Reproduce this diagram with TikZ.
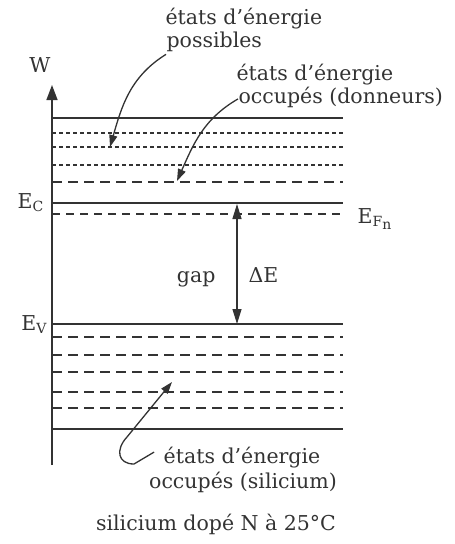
\documentclass[tikz,border=0pt]{standalone}
\usepackage{fontspec}
\setmainfont{DejaVu Serif}
\usetikzlibrary{arrows.meta}
\definecolor{ink}{gray}{0.2}
\newcommand\lsub[1]{\raisebox{-0.35ex}{\fontsize{14}{14}\selectfont #1}}
\begin{document}
\begin{tikzpicture}[x=1pt,y=-1pt, draw=ink, line width=1.2pt,
  lbl/.style={font=\fontsize{20.5}{24}\selectfont, text=ink, inner sep=0pt},
  level/.style={line width=1.3pt},
  fine/.style={line width=1.2pt, dash pattern=on 4pt off 3pt},
  mid/.style={line width=1.2pt, dash pattern=on 10pt off 6pt},
  fermi/.style={line width=2.3pt, dash pattern=on 8pt off 6pt},
  pointer/.style={-{Triangle[length=12pt,width=8pt]}, line width=1.3pt, draw=ink},
]
\useasboundingbox (0,0) rectangle (455,544);
% axis
\coordinate (axbot) at (52,465);
\coordinate (axtop) at (52,85);
\draw[-{Triangle[length=15pt,width=11pt]}, line width=1.4pt] (axbot) -- (axtop);
\node[lbl, anchor=base] (W) at (40,72) {W};
% conduction band levels
\draw[level] (52,118) -- (343,118);
\draw[fine] (52,133) -- (343,133);
\draw[fine] (52,147) -- (343,147);
\draw[fine] (52,165) -- (343,165);
\draw[mid] (52,182) -- (343,182);
\draw[level] (52,203) -- (343,203);
\draw[fermi] (52,214) -- (343,214);
% valence band levels
\draw[level] (52,324) -- (343,324);
\draw[mid] (52,337) -- (343,337);
\draw[mid] (52,355) -- (343,355);
\draw[mid] (52,372) -- (343,372);
\draw[mid] (52,392) -- (343,392);
\draw[mid] (52,408) -- (343,408);
\draw[level] (52,429) -- (343,429);
% labels of levels
\node[lbl, anchor=base east] (EC) at (44,208) {E\lsub{C}};
\node[lbl, anchor=base west] (EF) at (357,223) {E\lsub{F\lsub{n}}};
\node[lbl, anchor=base east] (EV) at (47,330) {E\lsub{V}};
% gap arrow
\coordinate (gtop) at (237,204);
\coordinate (gbot) at (237,324);
\draw[{Triangle[length=15pt,width=9pt]}-{Triangle[length=15pt,width=9pt]}, line width=1.3pt] (gtop) -- (gbot);
\node[lbl, anchor=base east] (gap) at (216,282) {gap};
\node[lbl, anchor=base west] (dE) at (248,282) {ΔE};
% annotations
\node[lbl, anchor=base west] (p1) at (165,24) {états d'énergie};
\node[lbl, anchor=base west] (p2) at (166,47) {possibles};
\node[lbl, anchor=base west] (d1) at (236,80) {états d'énergie};
\node[lbl, anchor=base west] (d2) at (238,103) {occupés (donneurs)};
\node[lbl, anchor=base] (s1) at (242,463) {états d'énergie};
\node[lbl, anchor=base] (s2) at (243,488) {occupés (silicium)};
\node[lbl, anchor=base] (cap) at (216,530) {silicium dopé N à 25°C};
% pointers
\coordinate (t1) at (110,147);
\coordinate (t2) at (177,181);
\coordinate (t3) at (172,382);
\draw[pointer] (p2.west) ++(0,13) coordinate (a1) to[out=212,in=74] (t1);
\draw[pointer] (d2.west) ++(0,2) coordinate (a2) to[out=210,in=66] (t2);
\draw[pointer] (s1.west) ++(-9,-5) coordinate (a3) -- (134,464) .. controls (118,464) and (115,450) .. (127,437) -- (t3);
\end{tikzpicture}
\end{document}
